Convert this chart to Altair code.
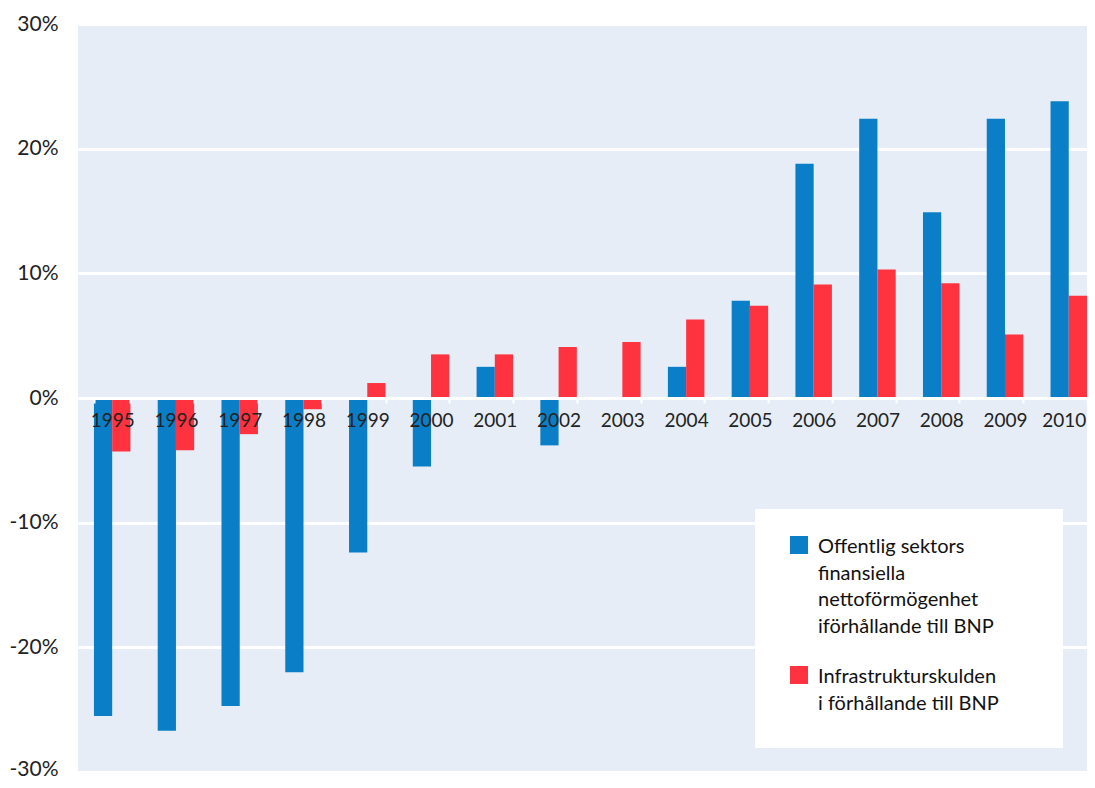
import altair as alt
import pandas as pd

years = [str(y) for y in range(1995, 2011)]
offentlig = [-25.5, -26.7, -24.7, -22.0, -12.4, -5.5, 2.5, -3.8, 0.0, 2.5, 7.8, 18.8, 22.4, 14.9, 22.4, 23.8]
infra = [-4.3, -4.2, -2.9, -0.9, 1.2, 3.5, 3.5, 4.1, 4.5, 6.3, 7.4, 9.1, 10.3, 9.2, 5.1, 8.2]
series = ["Offentlig sektors finansiella nettoförmögenhet iförhållande till BNP",
          "Infrastrukturskulden i förhållande till BNP"]
colors = ["#0a7fc7", "#fe333f"]
y_ticks = [-30, -20, -10, 0, 10, 20, 30]

rows = []
for i, y in enumerate(years):
    rows.append({"year": y, "serie": series[0], "value": offentlig[i]})
    rows.append({"year": y, "serie": series[1], "value": infra[i]})
df = pd.DataFrame(rows)

FONT = "Lato"

label_expr = ("datum.label == '%s' ? ['Offentlig sektors','finansiella','nettoförmögenhet','iförhållande till BNP'] "
              ": ['Infrastrukturskulden','i förhållande till BNP']") % series[0]

last_test = "datum.value == '%s'" % years[-1]
low_test = "datum.value == %d" % y_ticks[0]

H = 748
chart = alt.Chart(df).mark_bar().encode(
    x=alt.X("year:N", sort=years, title=None,
            scale=alt.Scale(paddingInner=0.428, paddingOuter=0.125, align=1),
            axis=alt.Axis(orient="bottom", offset=-(H / 2), labelAngle=0, domainColor="white",
                          domainWidth=3, tickColor="white", tickWidth=2, tickSize=5,
                          tickBand="extent", labelFontSize=19, labelColor="#222222",
                          labelFont=FONT, labelPadding=8, zindex=1,
                          labelAlign={"condition": {"test": last_test, "value": "right"}, "value": "center"},
                          labelOffset={"condition": {"test": last_test, "value": 17}, "value": 0})),
    xOffset=alt.XOffset("serie:N", sort=series),
    y=alt.Y("value:Q", title=None,
            scale=alt.Scale(domain=[-30, 30], nice=False),
            axis=alt.Axis(values=y_ticks, labelExpr="datum.value + '%'",
                          domain=False, ticks=False, gridColor="white", gridWidth=3,
                          labelFontSize=21, labelColor="#222222", labelFont=FONT,
                          labelPadding=20,
                          labelOffset={"condition": {"test": low_test, "value": -3}, "value": 0})),
    color=alt.Color("serie:N", sort=series,
                    scale=alt.Scale(domain=series, range=colors),
                    legend=alt.Legend(orient="none", legendX=677, legendY=485,
                                      fillColor="white", padding=34,
                                      title=".", titleOrient="right", titleColor="white",
                                      titleFontSize=6, titlePadding=28,
                                      symbolType="M-1,-1.89H1V0.11H-1Z", symbolSize=324,
                                      symbolStrokeWidth=0, symbolOpacity=1,
                                      labelFontSize=20, labelFont=FONT, labelColor="#111111",
                                      labelOffset=9, rowPadding=28, labelLimit=400,
                                      labelExpr=label_expr, labelBaseline="alphabetic")),
).properties(
    width=1009, height=H,
    autosize=alt.AutoSizeParams(type="none"),
    padding={"left": 70, "top": 16, "right": 0, "bottom": 8},
).configure(
    style={"guide-label": {"lineHeight": 26.5}}
).configure_view(
    fill="#e6edf6", stroke=None
)

chart.save("out.html", embed_options={"renderer": "svg", "actions": False})
